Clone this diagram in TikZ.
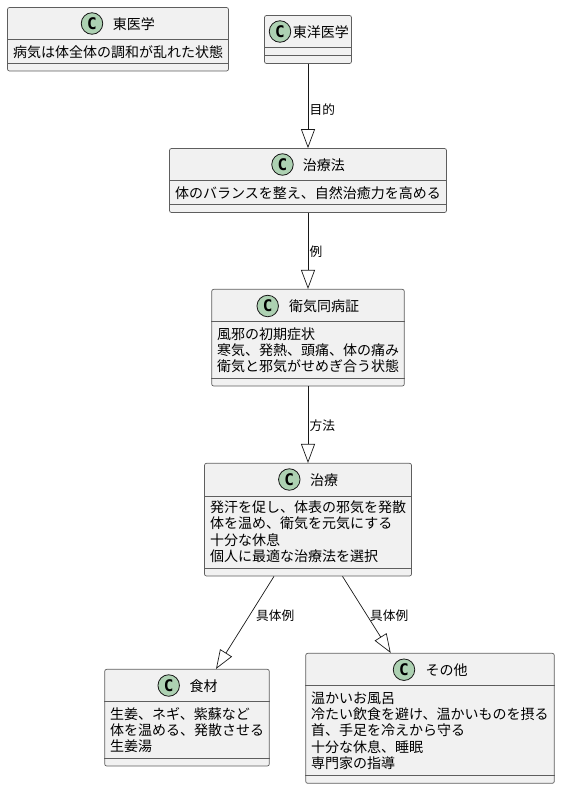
\documentclass[tikz,border=0pt]{standalone}
\usepackage{fontspec}
\setmainfont{Noto Sans CJK JP}
\newfontfamily\spotfont{DejaVu Sans Mono}
\usetikzlibrary{arrows.meta,positioning}
\definecolor{umlfill}{HTML}{F1F1F1}
\definecolor{umlline}{HTML}{181818}
\definecolor{umlsep}{HTML}{5E5E5E}
\definecolor{umlspot}{HTML}{ADD1B2}
\tikzstyle{classbox}=[draw=umlsep,fill=umlfill,rounded corners=2pt,line width=0.7pt,inner sep=0pt]
\tikzstyle{classspot}=[draw=umlline,fill=umlspot,circle,line width=0.8pt,minimum size=21.5pt,inner sep=0pt,font=\spotfont\bfseries\fontsize{16}{16}\selectfont]
\tikzstyle{classtitle}=[anchor=west,inner sep=0pt,font=\fontsize{14}{16}\selectfont]
\tikzstyle{classbody}=[anchor=west,inner sep=0pt,align=left,font=\fontsize{14}{16.25}\selectfont]
\tikzstyle{sepline}=[umlsep,line width=0.7pt]
\tikzstyle{extends}=[umlline,line width=0.7pt,-{Triangle[open,length=19pt,width=14pt]}]
\tikzstyle{edgelabel}=[anchor=west,inner sep=0pt,font=\fontsize{12.7}{15}\selectfont]

\begin{document}
\begin{tikzpicture}[x=1pt,y=-1pt]
    \useasboundingbox (0,0) rectangle (560,789);
    % classes
    \node[classbox,minimum width=221pt,minimum height=63.5pt] (toigaku) at (118,39.25) {};
    \draw[sepline] (toigaku.west |- 0,39.5) -- (toigaku.east |- 0,39.5);
    \draw[sepline] (toigaku.west |- 0,63.5) -- (toigaku.east |- 0,63.5);
    \node[classspot] (toigakuC) at (92,23.5) {C};
    \node[classtitle] (toigakuT) at (112.7,23.7) {東医学};
    \node[classbody] (toigakuB) at (13,52.2) {病気は体全体の調和が乱れた状態};

    \node[classbox,minimum width=87pt,minimum height=48pt] (toyo) at (308,39.5) {};
    \draw[sepline] (toyo.west |- 0,47.5) -- (toyo.east |- 0,47.5);
    \draw[sepline] (toyo.west |- 0,55.5) -- (toyo.east |- 0,55.5);
    \node[classspot] (toyoC) at (280,31.5) {C};
    \node[classtitle] (toyoT) at (292.7,31.7) {東洋医学};

    \node[classbox,minimum width=277pt,minimum height=64pt] (chiryoho) at (308,180.5) {};
    \draw[sepline] (chiryoho.west |- 0,180.5) -- (chiryoho.east |- 0,180.5);
    \draw[sepline] (chiryoho.west |- 0,204.5) -- (chiryoho.east |- 0,204.5);
    \node[classspot] (chiryohoC) at (282.5,164.5) {C};
    \node[classtitle] (chiryohoT) at (302.7,164.7) {治療法};
    \node[classbody] (chiryohoB) at (175,192.7) {体のバランスを整え、自然治癒力を高める};

    \node[classbox,minimum width=192.6pt,minimum height=96.7pt] (eiki) at (308,337.65) {};
    \draw[sepline] (eiki.west |- 0,321.3) -- (eiki.east |- 0,321.3);
    \draw[sepline] (eiki.west |- 0,378.3) -- (eiki.east |- 0,378.3);
    \node[classspot] (eikiC) at (267.7,306) {C};
    \node[classtitle] (eikiT) at (289,306.2) {衛気同病証};
    \node[classbody] (eikiB) at (217,350.2) {風邪の初期症状\\寒気、発熱、頭痛、体の痛み\\衛気と邪気がせめぎ合う状態};

    \node[classbox,minimum width=207pt,minimum height=112.7pt] (chiryo) at (308,519.65) {};
    \draw[sepline] (chiryo.west |- 0,496) -- (chiryo.east |- 0,496);
    \draw[sepline] (chiryo.west |- 0,568.3) -- (chiryo.east |- 0,568.3);
    \node[classspot] (chiryoC) at (289.3,479.5) {C};
    \node[classtitle] (chiryoT) at (310,479.7) {治療};
    \node[classbody] (chiryoB) at (210,531.7) {発汗を促し、体表の邪気を発散\\体を温め、衛気を元気にする\\十分な休息\\個人に最適な治療法を選択};

    \node[classbox,minimum width=164.6pt,minimum height=96.7pt] (shokuzai) at (187,717.65) {};
    \draw[sepline] (shokuzai.west |- 0,701) -- (shokuzai.east |- 0,701);
    \draw[sepline] (shokuzai.west |- 0,758.3) -- (shokuzai.east |- 0,758.3);
    \node[classspot] (shokuzaiC) at (168.7,685.5) {C};
    \node[classtitle] (shokuzaiT) at (189.5,685.7) {食材};
    \node[classbody] (shokuzaiB) at (110,730.2) {生姜、ネギ、紫蘇など\\体を温める、発散させる\\生姜湯};

    \node[classbox,minimum width=248.6pt,minimum height=130pt] (sonota) at (430,718.3) {};
    \draw[sepline] (sonota.west |- 0,685.7) -- (sonota.east |- 0,685.7);
    \draw[sepline] (sonota.west |- 0,775.3) -- (sonota.east |- 0,775.3);
    \node[classspot] (sonotaC) at (404,669.7) {C};
    \node[classtitle] (sonotaT) at (425.5,670.2) {その他};
    \node[classbody] (sonotaB) at (311,730.7) {温かいお風呂\\冷たい飲食を避け、温かいものを摂る\\首、手足を冷えから守る\\十分な休息、睡眠\\専門家の指導};

    % connectors
    \draw[extends] (toyo.south) -- (chiryoho.north);
    \draw[extends] (chiryoho.south) -- (eiki.north);
    \draw[extends] (eiki.south) -- (chiryo.north);
    \draw[extends] ([xshift=-34pt]chiryo.south) -- ([xshift=29pt]shokuzai.north);
    \draw[extends] ([xshift=34.5pt]chiryo.south) -- ([xshift=-39.3pt]sonota.north);

    \node[edgelabel] (mokuteki) at (309.5,109.7) {目的};
    \node[edgelabel] (rei) at (309.5,251.7) {例};
    \node[edgelabel] (hoho) at (309.5,425.7) {方法};
    \node[edgelabel] (gutai) at (256,615.7) {具体例};
    \node[edgelabel] (gutaib) at (370,615.7) {具体例};
\end{tikzpicture}
\end{document}
